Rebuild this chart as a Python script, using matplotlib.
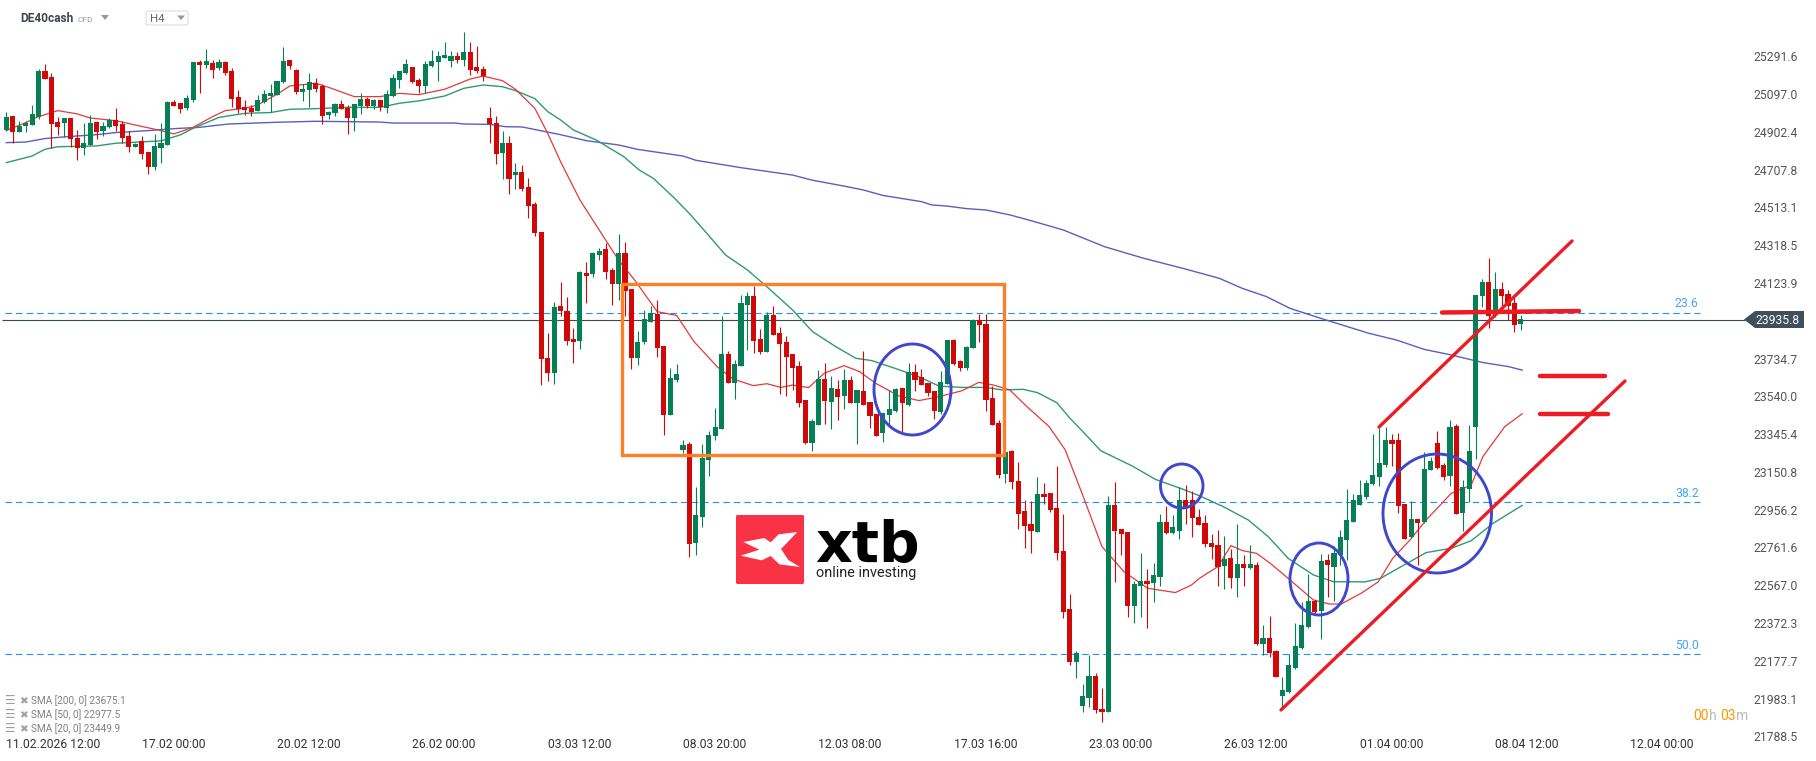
import matplotlib
matplotlib.use("Agg")
import matplotlib.pyplot as plt
from matplotlib.patches import Rectangle, Ellipse, Polygon, FancyBboxPatch

plt.rcParams['font.family'] = ['Roboto', 'DejaVu Sans']

opens = [24912,24984,24904,24933,24940,24981,25216,25185,24953,24950,
24974,24871,24821,24835,24953,24907,24928,24964,24943,24881,
24825,24856,24799,24722,24820,24835,25057,25051,25026,25067,
25263,25247,25257,25232,25263,25216,25082,25031,25027,25010,
25057,25087,25093,25160,25273,25221,25108,25118,25154,25139,
24990,25000,25046,25026,24974,25036,25072,25036,25067,25026,
25087,25170,25206,25237,25170,25139,25242,25263,25283,25268,
25293,25273,25314,25237,25227,24974,24948,24794,24845,24680,
24696,24619,24531,24387,23738,23660,24005,23980,23835,23825,
24176,24170,24268,24299,24191,24119,24277,24093,23738,23820,
23923,23964,23799,23444,23624,23264,23295,22784,22918,23212,
23336,23372,23758,23609,23696,24011,24057,23835,23768,23959,
23866,23820,23758,23696,23521,23300,23392,23629,23511,23578,
23542,23624,23506,23568,23511,23449,23351,23444,23464,23583,
23495,23665,23640,23609,23568,23459,23604,23830,23722,23686,
23789,23933,23913,23531,23403,23140,23258,23104,22949,22882,
22841,23037,23042,22965,22743,22444,22171,21945,21986,22099,
21929,21914,22980,22857,22841,22460,22563,22589,22578,22609,
22893,22836,22846,23006,23006,22918,22887,22784,22774,22666,
22707,22604,22676,22656,22671,22264,22295,22228,21996,22017,
22140,22243,22352,22486,22434,22697,22661,22723,22800,22893,
22980,23021,23088,23124,23186,23315,23315,22985,22815,22908,
22893,23161,23300,23186,23130,23387,22939,23063,23382,24057,
24129,23959,24093,24067,24021,23913]
closes = [24981,24904,24933,24950,24995,25216,25175,24945,24928,24974,
24864,24821,24845,24948,24902,24933,24964,24933,24871,24825,
24840,24789,24722,24830,24845,25057,25036,25020,25077,25263,
25247,25268,25221,25263,25206,25072,25020,25015,25005,25067,
25098,25103,25165,25268,25242,25108,25123,25160,25123,24984,
25005,25046,25020,24974,25046,25072,25036,25067,25031,25098,
25180,25216,25252,25160,25139,25252,25268,25293,25299,25293,
25273,25314,25221,25216,25190,24943,24789,24845,24660,24696,
24608,24521,24382,23732,23660,24000,23980,23825,23820,24181,
24160,24279,24289,24181,24119,24279,24083,23738,23820,23938,
23969,23789,23444,23634,23655,23289,22779,22929,23222,23341,
23382,23758,23609,23707,24021,24057,23825,23768,23959,23856,
23810,23743,23686,23506,23300,23413,23629,23516,23583,23538,
23624,23506,23573,23495,23439,23336,23454,23475,23578,23506,
23665,23624,23598,23557,23464,23614,23830,23707,23686,23794,
23933,23908,23521,23392,23135,23253,23099,22934,22872,22846,
23037,23021,22954,22733,22429,22171,22216,21996,22099,21924,
21914,22980,22846,22831,22460,22573,22589,22573,22620,22893,
22836,22867,23006,22965,22913,22877,22779,22764,22663,22702,
22604,22676,22656,22676,22264,22295,22218,22094,22027,22156,
22254,22362,22486,22429,22692,22671,22733,22815,22903,23006,
23032,23094,23135,23197,23315,23295,22975,22805,22908,22887,
23166,23207,23171,23124,23382,22934,23073,23258,24062,24129,
23954,24093,24057,24005,23908,23936]
highs = [25007,24984,24960,24960,25041,25227,25252,25206,24981,24974,
24974,24912,24947,24990,24957,24955,24974,25026,24957,24907,
24844,24881,24799,24892,24948,25062,25067,25051,25093,25263,
25273,25330,25273,25278,25268,25232,25118,25067,25041,25093,
25118,25149,25166,25340,25273,25227,25149,25206,25180,25149,
25010,25051,25067,25041,25046,25103,25082,25072,25067,25118,
25201,25216,25276,25237,25180,25268,25324,25319,25366,25319,
25314,25417,25366,25345,25242,25031,24984,24907,24881,24742,
24732,24665,24541,24387,23866,24026,24129,24052,23892,24186,
24232,24284,24304,24330,24201,24376,
24333,24093,23877,23985,24005,24036,23799,23686,23707,23315,
23305,23073,23295,23361,23480,23954,23774,23727,24062,24078,
24108,23887,23975,24005,23897,23851,23758,23722,23521,23423,
23676,23712,23645,23624,23681,23645,23573,23774,23511,23449,
23454,23573,23583,23583,23712,23707,23681,23609,23568,23671,
23830,23835,23727,23799,23938,23964,23964,23593,23418,23253,
23264,23202,23006,23001,23124,23094,23042,23181,22934,22522,
22228,22058,22207,22113,22037,23027,23099,22857,22841,22589,
22733,22650,22680,22934,22975,22929,23073,23083,23052,22960,
22929,22831,22851,22820,22754,22882,22723,22774,22687,22362,
22408,22233,22094,22213,22372,22481,22625,22491,22728,22728,
22769,22851,23063,23037,23109,23109,23346,23377,23382,23346,
23351,22985,23001,22908,23253,23228,23361,23197,23418,23398,
23109,23392,24062,24145,24253,24181,24129,24088,24054,23959]
lows = [24909,24844,24902,24904,24938,24967,25175,24821,24887,24874,
24825,24758,24783,24835,24866,24881,24921,24907,24845,24799,
24825,24763,24687,24706,24742,24835,25036,25000,25015,25057,
25103,25232,25180,25221,25196,25031,25000,24990,24984,25010,
25050,25005,25091,25154,25227,25098,25062,25031,25108,24943,
24969,24984,25020,24892,24907,24995,25026,25020,25010,25000,
25082,25129,25201,25154,25103,25103,25237,25165,25283,25237,
25257,25242,25196,25206,25165,24844,24737,24660,24583,24608,
24598,24459,24366,23599,23619,23604,23954,23805,23712,23784,
24021,24155,24242,24145,24011,24036,
23954,23681,23702,23810,23923,23743,23341,23444,23614,23248,
22712,22723,22867,23130,23315,23372,23609,23526,23696,23779,
23763,23758,23768,23856,23552,23542,23573,23485,23295,23258,
23392,23398,23372,23418,23475,23506,23295,23495,23377,23336,
23305,23382,23459,23356,23490,23568,23598,23542,23423,23449,
23604,23702,23671,23676,23789,23820,23464,23392,23119,23094,
23063,22857,22759,22733,22841,22985,22944,22697,22398,22156,
22089,21914,21940,21909,21862,21914,22583,22723,22403,22372,
22403,22347,22481,22563,22831,22831,22805,22882,22815,22877,
22764,22702,22563,22547,22553,22506,22563,22650,22259,22207,
22197,22094,21934,22012,22135,22238,22347,22424,22290,22506,
22486,22671,22697,22893,22980,23011,23083,23078,23176,23181,
22939,22805,22810,22671,22887,23161,23166,23109,23078,22934,
22846,22996,23217,24000,23892,23949,23985,23933,23871,23882]

sma20_idx = [0,3,5,8,11,13,17,20,24,26,29,32,34,37,39,42,44,48,50,54,58,61,64,68,72,74,77,79,82,84,86,89,93,95,
97.5,101,104,106.7,110.4,112.8,115.9,118,120.2,122,124.5,126.9,130,132.4,134.9,138.5,141.6,144.7,148.3,150.9,
153.2,155.7,158.1,161.8,164.3,167,170,173.4,177.1,181.4,183.9,185.1,188,190,191.8,194,196.1,198.9,202.8,205.3,
207.1,210.2,212.9,215.1,217.8,220.3,224.2,227.3,229.1,232.5,235.2]
sma20_val = [24909,24950,24981,25012,24995,24974,24960,24938,24909,24892,24926,24981,25012,25024,25041,25096,25139,
25153,25132,25084,25084,25101,25094,25122,25175,25190,25166,25122,25024,24895,24749,24552,24345,24242,
24139,23976,23957,23822,23689,23629,23595,23605,23586,23598,23585,23659,23698,23667,23607,23542,23518,23538,23569,23612,
23598,23573,23495,23384,23264,23032,22766,22637,22551,22529,22568,22602,22663,22771,22745,22731,22680,22602,22491,22470,
22470,22525,22585,22705,22800,22903,23040,23083,23229,23384,23450]

sma50_idx = [0,4,6,8,14,17,24,27,29,33,37,41,44,48,53,58,61,64,68,71,74,77,79,82,84,86,88,91.5,
95.8,98.2,100.4,103.7,106.2,109.6,111.6,115,118.3,122,125.1,128.7,131.8,134.3,137.9,141.6,144.7,148.3,152,154.5,157.8,160,
163,164.9,167.3,169.8,174.7,178.3,182.6,185.1,188.8,192.7,195.8,198.9,202.8,205.9,210.8,213.2,215.7,218.7,220.3,224.2,227.3,230.7,235.2]
sma50_val = [24744,24778,24813,24826,24830,24844,24856,24887,24921,24977,24998,25002,25019,25022,25029,25029,25050,25062,
25087,25127,25144,25135,25115,25074,25007,24964,24912,24861,
24775,24706,24663,24560,24474,24345,24268,24191,24096,23985,23873,23796,23736,23724,23684,23641,23593,23586,23586,23573,23576,23559,
23507,23432,23349,23260,23181,23112,23061,23028,22972,22903,22817,22705,22620,22585,22584,22602,22649,22705,22735,22757,22796,22886,22978]

sma200_idx = [0,3,6,9.5,14,17,22,26,30,34.5,42,48,58,60,69.5,71,75,77.5,80,86,90,95,98,105,107,110.5,114,122,125,130,133,136,142,
143.6,146,149,152,155.8,159,164,170.4,176.5,182.6,188.2,191.8,195.5,199.2,204.4,211.4,215.7,220,224.2,229.1,233.1,235.2]
sma200_val = [24847,24850,24868,24878,24888,24899,24909,24919,24926,24943,24952,24957,24953,24948,24948,24943,24941,24929,24928,24888,24857,
24835,24812,24778,24756,24737,24718,24680,24654,24623,24603,24575,24543,
24526,24520,24507,24500,24474,24445,24397,24311,24251,24199,24148,24096,24054,23993,23937,23865,23830,23782,23753,23714,23693,23675]

ytick_vals = [25291.6,25097.0,24902.4,24707.8,24513.1,24318.5,24123.9,23734.7,23540.0,23345.4,23150.8,22956.2,22761.6,22567.0,22372.3,22177.7,21983.1,21788.5]
xtick_idx = [0,21,42,63,84,105,126,147,168,189,210,231,252]
xtick_labels = ["11.02.2026 12:00","17.02 00:00","20.02 12:00","26.02 00:00","03.03 12:00","08.03 20:00","12.03 08:00",
                "17.03 16:00","23.03 00:00","26.03 12:00","01.04 00:00","08.04 12:00","12.04 00:00"]
fib_levels = [23968, 22994, 22211]
fib_labels = ["23.6", "38.2", "50.0"]
last_price = 23935.8
legend_rows = ["SMA [200, 0] 23675.1", "SMA [50, 0] 22977.5", "SMA [20, 0] 23449.9"]

UP = "#058055"
DOWN = "#D00808"

fig = plt.figure(figsize=(18.16, 7.61), dpi=100, facecolor="white")
ax = fig.add_axes([0, 0, 1, 1])
ax.set_xlim(-6.3/6.445, (1816-6.3)/6.445)
ax.set_ylim(last_price-(761-319.5)*5.152, last_price+319.5*5.152)
for s in ax.spines.values():
    s.set_visible(False)

# levels and price line
ax.hlines(fib_levels, -0.2, 262.8, colors="#1E90FF", lw=0.8, linestyles=(0, (5.9, 3.6)), zorder=1)
ax.hlines(last_price, -0.6, 269.7, colors="#3C4852", lw=0.8, zorder=1)

# moving averages go under the candles
ax.plot(sma200_idx, sma200_val, color="#5860BC", lw=1.0, zorder=2)
ax.plot(sma50_idx, sma50_val, color="#2E9A75", lw=1.0, zorder=2)
ax.plot(sma20_idx, sma20_val, color="#E23A3A", lw=0.9, zorder=2)

# candles
for i in range(len(opens)):
    c = UP if closes[i] >= opens[i] else DOWN
    ax.vlines(i, lows[i], highs[i], colors=c, lw=0.8, zorder=3)
    ax.bar(i, abs(closes[i]-opens[i]), 0.8, min(opens[i], closes[i]), color=c, lw=0, zorder=3)

# axis labels sit inside the figure
ax.yaxis.tick_right()
ax.set_yticks(ytick_vals, [f"{v:.1f}" for v in ytick_vals])
ax.tick_params(axis="y", length=0, pad=-13, labelsize=8.7, labelcolor="#555555")
for t in ax.get_yticklabels():
    t.set_ha("right")
ax.set_xticks(xtick_idx, xtick_labels)
ax.tick_params(axis="x", length=0, pad=-16.5, labelsize=8.7, labelcolor="#333333")
for t in ax.get_xticklabels():
    t.set_ha("left")

for lev, lab in zip(fib_levels, fib_labels):
    ax.annotate(lab, (262.6, lev), xytext=(0, 2), textcoords="offset points", ha="right", va="bottom",
                color="#45A5F5", fontsize=8.8)

# overlay in pixel coordinates for the hand drawn stuff
ov = fig.add_axes([0, 0, 1, 1], facecolor="none")
ov.set_xlim(0, 1816)
ov.set_ylim(761, 0)
ov.axis("off")

ov.add_patch(Rectangle((621.5, 283.5), 382, 171, fc="none", ec="#FF7F27", lw=2.4, zorder=5))
for (x0, x1, y0, y1) in [(874, 951, 344, 435), (1160.5, 1203, 464, 508), (1290, 1348, 543, 615), (1383, 1491.5, 454, 573)]:
    ov.add_patch(Ellipse(((x0+x1)/2, (y0+y1)/2), x1-x0, y1-y0, fc="none", ec="#3F48CC", lw=2.1, zorder=5))
for (xs, ys, lw) in [((1379, 1572), (427, 241), 2.4), ((1281, 1625), (710, 381), 2.4), ((1442, 1579), (312.5, 311), 3.2),
                     ((1540, 1605), (375.5, 375.5), 3.2), ((1540, 1608), (413.5, 413.5), 3.2)]:
    ov.plot(xs, ys, color="#ED1C24", lw=lw, solid_capstyle="round", zorder=6)

# price tag
ov.add_patch(Polygon([(1744, 319.5), (1755, 311), (1804, 311), (1804, 328), (1755, 328)], fc="#3F4F5C", ec="none", zorder=5))
ov.text(1800, 320, "23935.8", color="white", fontsize=8.7, ha="right", va="center", zorder=6)

# countdown
ov.text(1693, 716, "00", color="#FF9800", fontsize=10, va="center")
ov.text(1709, 716, "h", color="#BBBBBB", fontsize=10, va="center")
ov.text(1720, 716, "03", color="#FF9800", fontsize=10, va="center")
ov.text(1736, 716, "m", color="#BBBBBB", fontsize=10, va="center")

# header
ov.text(20, 19, "DE40cash", color="#3E4650", fontsize=8.6, fontweight="bold", va="center")
ov.text(78, 19.5, "CFD", color="#9A9A9A", fontsize=6, va="center")
ov.add_patch(Polygon([(101, 15), (109, 15), (105, 20)], fc="#999999", ec="none"))
ov.add_patch(FancyBboxPatch((146, 11), 42, 14, boxstyle="round,pad=0,rounding_size=2", fc="white", ec="#DDDDDD", lw=0.8))
ov.text(150, 19, "H4", color="#666666", fontsize=8.2, va="center")
ov.add_patch(Polygon([(177, 15.5), (185, 15.5), (181, 20)], fc="#999999", ec="none"))

# legend rows
for row, y in zip(legend_rows, [701, 715, 729]):
    ov.text(5.5, y, "\u2630", color="#A0A0A0", fontsize=8.5, family="DejaVu Sans", va="center")
    ov.text(19, y, "\u2716", color="#A0A0A0", fontsize=7.5, family="DejaVu Sans", va="center")
    ov.text(31, y, row, color="#808080", fontsize=7.2, va="center")

# logo
ov.add_patch(FancyBboxPatch((736, 515), 68, 69, boxstyle="round,pad=0,rounding_size=1.5", fc="#F93245", ec="none", zorder=5))
logo_x = [232,183,205,240,178,152,125,62,118,70,133,152,176]
logo_y = [96,147,180,201,193,168,181,167,149,126,114,127,103]
ov.add_patch(Polygon([(720+a/3, 500+b/3) for a, b in zip(logo_x, logo_y)], fc="white", ec="none", zorder=6))
ov.text(815, 561.7, "xtb", color="black", fontsize=41, fontweight="bold", family="DejaVu Sans", va="baseline", zorder=6)
ov.text(816.5, 573.5, "online investing", color="#222222", fontsize=10.4, va="center", zorder=6)

fig.savefig("out.png", dpi=100)
